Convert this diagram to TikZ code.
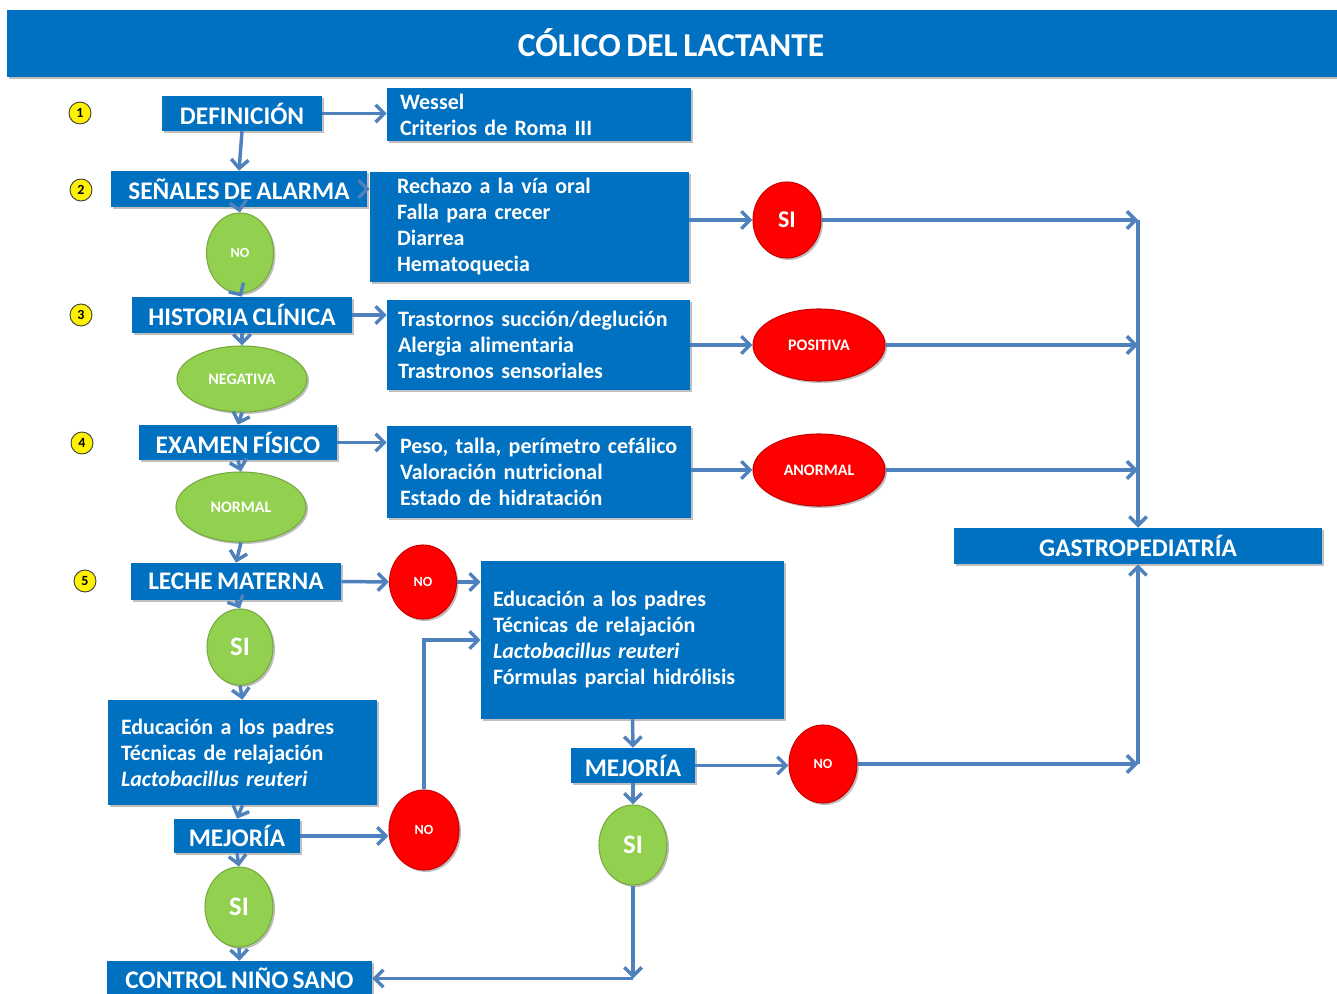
\documentclass[tikz,border=0pt]{standalone}
\usepackage{fontspec}
\setmainfont{Carlito}[WordSpace=0.75]
\usetikzlibrary{arrows.meta,shadows,positioning,shapes.geometric}
\definecolor{boxblue}{RGB}{0,112,192}
\definecolor{linkblue}{RGB}{79,129,189}
\definecolor{okgreen}{RGB}{146,208,80}
\definecolor{okgreenline}{RGB}{118,170,62}
\definecolor{alertred}{RGB}{255,0,0}
\definecolor{alertredline}{RGB}{205,0,0}
\tikzset{
  shade box/.style={drop shadow={shadow xshift=1.5pt,shadow yshift=-1.5pt,opacity=.25,fill=black}},
  head/.style={rectangle, fill=boxblue, text=white, inner sep=0pt, shade box,
    font=\bfseries\fontsize{19}{22}\selectfont},
  listbox/.style={rectangle, fill=boxblue, text=white, inner sep=0pt, align=left, shade box,
    font=\bfseries\fontsize{16.5}{19.5}\selectfont},
  okay/.style={ellipse, fill=okgreen, draw=okgreenline, line width=.8pt, text=white, inner sep=0pt, shade box},
  alert/.style={ellipse, fill=alertred, draw=alertredline, line width=.8pt, text=white, inner sep=0pt, shade box},
  stepnum/.style={circle, fill=yellow, draw=black!75, line width=.7pt, minimum size=16.5pt, inner sep=0pt,
    font=\bfseries\fontsize{10.5}{10.5}\selectfont},
  link/.style={linkblue, line width=2.6pt, -{Straight Barb[length=6.5pt,width=13pt]}},
  small/.style={font=\bfseries\fontsize{10.5}{10.5}\selectfont},
  mid/.style={font=\bfseries\fontsize{12}{12}\selectfont},
  big/.style={font=\bfseries\fontsize{20}{20}\selectfont}
}
\begin{document}
\begin{tikzpicture}[x=0.75pt,y=-0.75pt]
      \useasboundingbox (0,0) rectangle (1337,994);
      \node[rectangle, fill=boxblue, minimum width=997.5pt, minimum height=50.25pt, inner sep=0pt, shade box] (bar) at (672,43.5) {};
      \node[text=white, font=\bfseries\fontsize{25}{28}\selectfont] (title) at (671,43) {CÓLICO DEL LACTANTE};
      \node[stepnum] (s1) at (80,113) {1};
      \node[stepnum] (s2) at (81,190) {2};
      \node[stepnum] (s3) at (81,315) {3};
      \node[stepnum] (s4) at (82,443) {4};
      \node[stepnum] (s5) at (85,581) {5};
      \node[head, minimum width=120pt, minimum height=26.25pt] (def) at (242,113.5) {DEFINICIÓN};
      \node[head, minimum width=192pt, minimum height=27pt] (alarm) at (239,189) {SEÑALES DE ALARMA};
      \node[head, minimum width=165pt, minimum height=27pt] (hist) at (242,315) {HISTORIA CLÍNICA};
      \node[head, minimum width=148.5pt, minimum height=26.25pt] (exam) at (238,442.5) {EXAMEN FÍSICO};
      \node[head, minimum width=157.5pt, minimum height=27.75pt] (milk) at (236,581.5) {LECHE MATERNA};
      \node[head, minimum width=94.5pt, minimum height=25.5pt] (better1) at (237,836) {MEJORÍA};
      \node[head, minimum width=93pt, minimum height=26.25pt] (better2) at (633,765.5) {MEJORÍA};
      \node[head, minimum width=198.75pt, minimum height=26.25pt] (control) at (239.5,978.5) {CONTROL NIÑO SANO};
      \node[head, minimum width=276pt, minimum height=27pt] (gastro) at (1138,546) {GASTROPEDIATRÍA};
      \node[listbox, minimum width=228pt, minimum height=39.75pt, text width=208.5pt] (defl) at (539,114.5) {Wessel\\Criterios de Roma III};
      \node[listbox, minimum width=239.25pt, minimum height=82.5pt, text width=198.75pt] (alarml) at (529.5,227) {Rechazo a la vía oral\\Falla para crecer\\Diarrea\\Hematoquecia};
      \node[listbox, minimum width=227.25pt, minimum height=67.5pt, text width=210.75pt] (histl) at (538.5,345) {Trastornos succión/deglución\\Alergia alimentaria\\Trastronos sensoriales};
      \node[listbox, minimum width=228pt, minimum height=69pt, text width=208.5pt] (examl) at (539,472) {Peso, talla, perímetro cefálico\\Valoración nutricional\\Estado de hidratación};
      \node[listbox, minimum width=227.25pt, minimum height=118.5pt, text width=209.25pt] (plan2) at (632.5,640) {Educación a los padres\\Técnicas de relajación\\\textit{Lactobacillus reuteri}\\Fórmulas parcial hidrólisis};
      \node[listbox, minimum width=201.75pt, minimum height=78.75pt, text width=182.25pt] (plan1) at (242.5,752.5) {Educación a los padres\\Técnicas de relajación\\\textit{Lactobacillus reuteri}};
      \node[okay, small, minimum width=50.25pt, minimum height=60pt] (no1) at (240,253) {NO};
      \node[okay, mid, minimum width=97.5pt, minimum height=49.5pt] (neg) at (242,379) {NEGATIVA};
      \node[okay, mid, minimum width=97.5pt, minimum height=52.5pt] (norm) at (241,507) {NORMAL};
      \node[okay, big, minimum width=49.5pt, minimum height=57pt] (yes1) at (240,647) {SI};
      \node[okay, big, minimum width=51pt, minimum height=60pt] (yes2) at (239,907) {SI};
      \node[okay, big, minimum width=51pt, minimum height=60pt] (yes3) at (633,845) {SI};
      \node[alert, font=\bfseries\fontsize{18}{18}\selectfont, minimum width=51pt, minimum height=57pt] (yesR) at (787,220) {SI};
      \node[alert, mid, minimum width=99pt, minimum height=54pt] (pos) at (819,345) {POSITIVA};
      \node[alert, mid, minimum width=99pt, minimum height=54pt] (abn) at (819,470) {ANORMAL};
      \node[alert, small, minimum width=50.25pt, minimum height=55.5pt] (noR1) at (423,582) {NO};
      \node[alert, small, minimum width=52.5pt, minimum height=60pt] (noR2) at (424,830) {NO};
      \node[alert, small, minimum width=51pt, minimum height=58.5pt] (noR3) at (823,764) {NO};
      \coordinate (gtop) at (yesR.east -| gastro.north);
      \coordinate (gbot) at (noR3.east -| gastro.south);
      \coordinate (corner) at (yes3.south |- control.east);
      \draw[link] (def.east) -- (def.east -| defl.west);
      \draw[link] (def.south) -- (alarm.north);
      \draw[link] (alarm.east) -- (alarm.east -| alarml.west);
      \draw[link] (alarm.south) -- (no1.north);
      \draw[link] (no1.south) -- (hist.north);
      \draw[link] (hist.east) -- (hist.east -| histl.west);
      \draw[link] (hist.south) -- (neg.north);
      \draw[link] (neg.south) -- (exam.north);
      \draw[link] (exam.east) -- (exam.east -| examl.west);
      \draw[link] (exam.south) -- (norm.north);
      \draw[link] (norm.south) -- (milk.north);
      \draw[link] (yesR.west -| alarml.east) -- (yesR.west);
      \draw[link] (pos.west -| histl.east) -- (pos.west);
      \draw[link] (abn.west -| examl.east) -- (abn.west);
      \draw[link] (yesR.east) -- (gtop);
      \draw[link] (pos.east) -- (pos.east -| gastro.north);
      \draw[link] (abn.east) -- (abn.east -| gastro.north);
      \draw[link] (gtop) -- (gastro.north);
      \draw[link] (milk.east) -- (noR1.west);
      \draw[link] (noR1.east) -- (noR1.east -| plan2.west);
      \draw[link] (milk.south) -- (yes1.north);
      \draw[link] (yes1.south) -- (plan1.north);
      \draw[link] (plan1.south) -- (better1.north);
      \draw[link] (better1.east) -- (better1.east -| noR2.west);
      \draw[link] (noR2.north) |- (plan2.west);
      \draw[link] (better1.south) -- (yes2.north);
      \draw[link] (yes2.south) -- (control.north);
      \draw[link] (plan2.south) -- (better2.north);
      \draw[link] (better2.east) -- (better2.east -| noR3.west);
      \draw[link] (noR3.east) -- (gbot);
      \draw[link] (gbot) -- (gastro.south);
      \draw[link] (better2.south) -- (yes3.north);
      \draw[link] (yes3.south) -- (corner);
      \draw[link] (corner) -- (control.east);
\end{tikzpicture}
\end{document}
